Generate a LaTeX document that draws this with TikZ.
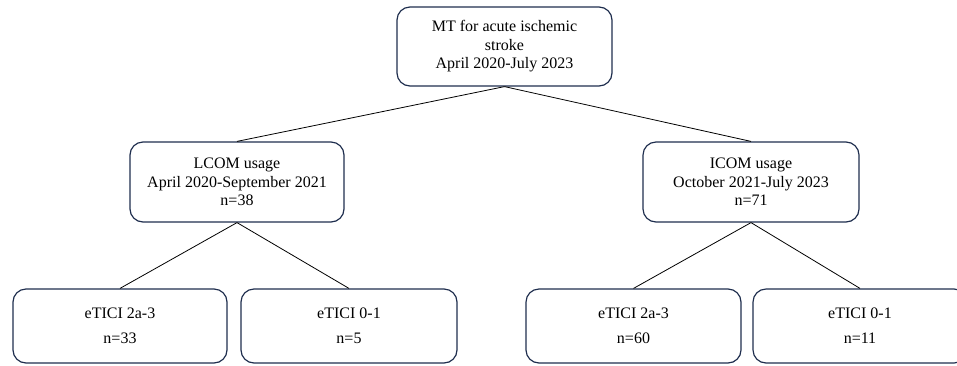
\documentclass[tikz,border=0pt]{standalone}
\usepackage{fontspec}
\setmainfont{Liberation Serif}
\definecolor{boxline}{HTML}{1F2E4E}
\tikzset{
  mybox/.style={draw=boxline, line width=1.2pt, rounded corners=13pt, align=center,
    font=\fontsize{16}{18.5}\selectfont, inner sep=0pt},
  leafbox/.style={mybox, font=\fontsize{16}{25}\selectfont},
  conn/.style={draw=black, line width=0.8pt}
}
\begin{document}
\begin{tikzpicture}[x=1pt,y=-1pt]
\useasboundingbox (0,0) rectangle (957,365);
\node[mybox, minimum width=215pt, minimum height=79pt] (top) at (504.5,46.5)
  {MT for acute ischemic\\stroke\\April 2020-July 2023};
\node[mybox, minimum width=214pt, minimum height=80pt] (lcom) at (237,182)
  {LCOM usage\\April 2020-September 2021\\n=38};
\node[mybox, minimum width=216pt, minimum height=80pt] (icom) at (751,182)
  {ICOM usage\\October 2021-July 2023\\n=71};
\node[leafbox, minimum width=214pt, minimum height=74pt] (b1) at (120,326)
  {eTICI 2a-3\\n=33};
\node[leafbox, minimum width=216pt, minimum height=74pt] (b2) at (349,326)
  {eTICI 0-1\\n=5};
\node[leafbox, minimum width=215pt, minimum height=74pt] (b3) at (633.5,326)
  {eTICI 2a-3\\n=60};
\node[leafbox, minimum width=214pt, minimum height=74pt] (b4) at (860,326)
  {eTICI 0-1\\n=11};
\draw[conn] (top.south) -- (lcom.north);
\draw[conn] (top.south) -- (icom.north);
\draw[conn] (lcom.south) -- (b1.north);
\draw[conn] (lcom.south) -- (b2.north);
\draw[conn] (icom.south) -- (b3.north);
\draw[conn] (icom.south) -- (b4.north);
\end{tikzpicture}
\end{document}
